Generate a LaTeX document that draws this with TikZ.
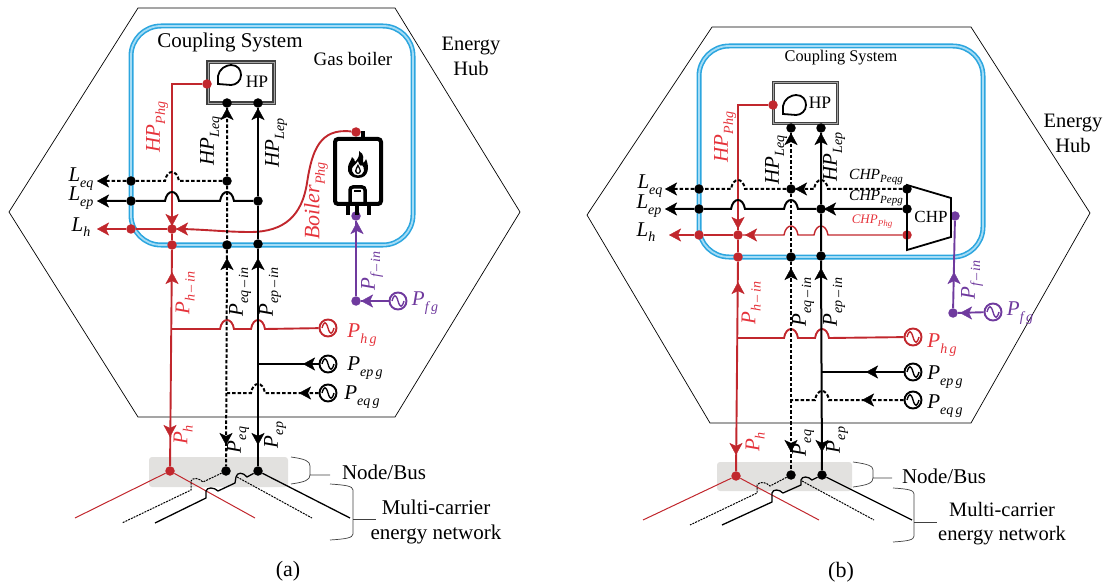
\documentclass[tikz,border=0pt]{standalone}
\usepackage{fontspec}
\setmainfont{Liberation Serif}
\usetikzlibrary{arrows.meta}
\definecolor{heatred}{HTML}{C1272D}
\definecolor{heattext}{HTML}{E5333B}
\definecolor{fuelpurple}{HTML}{6F3A9E}
\definecolor{hubblue}{HTML}{2CA6DF}
\definecolor{hubpale}{HTML}{A5DCF5}
\definecolor{busgrey}{HTML}{E2E1DF}
\newcommand{\pvar}[3][14]{\textit{#2}\raisebox{-.25em}{\fontsize{#1}{#1}\selectfont\itshape #3}}
\newcommand{\hoph}[2]{-- (#1+7,#2) .. controls (#1+5,#2-12) and (#1-5,#2-12) .. (#1-7,#2)}
\tikzset{
    hexagon/.style={draw, line width=.7pt},
    hubbox/.style={draw=hubblue, line width=1.6pt, double=hubpale, double distance=1.8pt, rounded corners=30pt},
    busbox/.style={fill=busgrey, rounded corners=3pt},
    hpbox/.style={draw=black!75, fill=white, line width=1.2pt, double=black!35, double distance=.9pt, minimum width=66pt, minimum height=41pt, inner sep=0pt},
    dotn/.style={circle, fill, inner sep=0pt, minimum size=9.5pt},
    reddot/.style={dotn, heatred},
    purpledot/.style={dotn, fuelpurple},
    source/.style={circle, draw=#1, fill=white, line width=1.9pt, minimum size=17pt, inner sep=0pt,
        path picture={\draw[#1, line width=1.4pt] ([xshift=-6pt]path picture bounding box.center) .. controls +(2pt,7pt) and +(-2pt,7pt) .. ++(6pt,0pt) .. controls +(2pt,-7pt) and +(-2pt,-7pt) .. ++(6pt,0pt);}},
    source/.default=black,
    solidl/.style={line width=2pt},
    dashl/.style={line width=2pt, dash pattern=on 3.5pt off 2pt},
    heatl/.style={line width=1.9pt, heatred},
    fuell/.style={line width=1.9pt, fuelpurple},
    thinl/.style={line width=1.3pt},
    thindash/.style={line width=1pt, dash pattern=on 2pt off 1pt},
    bracel/.style={line width=.7pt, black!75},
    lab/.style={font=\fontsize{21}{24}\selectfont, inner sep=0pt},
    small/.style={font=\fontsize{15.5}{18}\selectfont, inner sep=0pt},
    head/.style={font=\fontsize{21}{26}\selectfont, inner sep=0pt, align=center},
    tiphead/.style={-{Stealth[length=12pt, width=13pt, inset=3pt]}, line width=.3pt},
    pump/.pic={\draw[line width=1.8pt] (0,19) -- (0,11) .. controls (1,4) and (8,0) .. (13,0) .. controls (20,0) and (23,5) .. (23,10) .. controls (23,16) and (18,20) .. (13,20) -- cycle;}
}
\begin{document}
\begin{tikzpicture}[x=1pt, y=-1pt]
    \useasboundingbox (0,0) rectangle (1111,588);

    % (a)
    \draw[hexagon] (138,8) -- (395,8) -- (520,212) -- (395,417) -- (138,417) -- (9,212) -- cycle;
    \draw[hubbox] (131,26) rectangle (413,245);
    \fill[busbox] (149,457) rectangle (288,487);
    \node[hpbox] (hpa) at (241,82.5) {};
    \pic at (218,65) {pump};
    \node[inner sep=0pt, font=\fontsize{17.5}{20}\selectfont] (hptexta) at (257,82) {HP};

    \node[reddot] (hpouta) at (207,84) {};
    \node[dotn] (hpqa) at (227,103) {};
    \node[dotn] (hppa) at (258,103) {};
    \node[dotn] (lqjoina) at (227,181) {};
    \node[dotn] (lqboxa) at (131,181) {};
    \node[dotn] (lpjoina) at (258,201) {};
    \node[dotn] (lpboxa) at (131,201) {};
    \node[reddot] (lhboxa) at (131,229) {};
    \node[reddot] (lhjoina) at (172,229) {};
    \node[reddot] (inha) at (172,245) {};
    \node[dotn] (inqa) at (227,245) {};
    \node[dotn] (inpa) at (258,244) {};
    \node[reddot] (busha) at (170,471) {};
    \node[dotn] (busqa) at (226,471) {};
    \node[dotn] (buspa) at (258,471) {};
    \node[reddot] (boilerouta) at (356,132) {};
    \node[purpledot] (boilerina) at (356,216) {};
    \node[purpledot] (fuela) at (356,301) {};
    \coordinate (hcorna) at (172,84);
    \coordinate (hjoina) at (172,329);
    \coordinate (pjoina) at (258,364);
    \coordinate (qjoina) at (227,393);
    \coordinate (leqa) at (100,181);
    \coordinate (lepa) at (100,201);
    \coordinate (lha) at (100,229);
    \node[source=heatred] (srcha) at (328,328) {};
    \node[source] (srcpa) at (328,364) {};
    \node[source] (srcqa) at (328,393) {};
    \node[source=fuelpurple] (srcfa) at (398,301) {};

    \draw[heatl] (hpouta) -- (hcorna) -- (lhjoina);
    \draw[heatl] (lhjoina) -- (lhboxa) -- (lha);
    \draw[heatl] (lhjoina) -- (inha) -- (busha);
    \draw[heatl] (srcha) \hoph{258}{329} \hoph{227}{329} -- (hjoina);
    \draw[heatl] (boilerouta) .. controls (320,128) and (312,150) .. (307,183) .. controls (302,215) and (285,232) .. (250,232) .. controls (225,232) and (200,229) .. (lhjoina);
    \draw[dashl] (hpqa) -- (lqjoina) -- (inqa) -- (busqa);
    \draw[solidl] (hppa) -- (lpjoina) -- (inpa) -- (buspa);
    \draw[dashl] (lqjoina) \hoph{172}{181} -- (lqboxa) -- (leqa);
    \draw[solidl] (lpjoina) \hoph{227}{201} \hoph{172}{201} -- (lpboxa) -- (lepa);
    \draw[solidl] (srcpa) -- (pjoina);
    \draw[dashl] (srcqa) \hoph{258}{393} -- (qjoina);
    \draw[fuell] (boilerina) -- (fuela) -- (srcfa);

    \foreach \x/\y/\u/\v/\c in {172/226/0/1/heatred, 176/229/-1/0/heatred, 97/229/-1/0/heatred, 172/272/0/-1/heatred, 170/437/0/1/heatred,
        97/181/-1/0/black, 97/201/-1/0/black, 227/108/0/-1/black, 258/108/0/-1/black, 227/258/0/-1/black, 258/258/0/-1/black,
        226/445/0/1/black, 258/445/0/1/black, 303/364/-1/0/black, 299/393/-1/0/black,
        357/222/0/-1/fuelpurple, 361/301/-1/0/fuelpurple}
        \draw[tiphead, \c] (\x-\u,\y-\v) -- (\x,\y);

    \draw[line width=4pt, rounded corners=3pt] (335,139) rectangle (381,204);
    \draw[line width=4pt] (363,137) -- (363,131);
    \foreach \x in {348,357,369}
        \draw[line width=4pt] (\x,205) -- (\x,215);
    \draw[line width=3.5pt, rounded corners=3pt] (350,204) -- (350,187) -- (365,187) -- (365,204);
    \draw[line width=2pt] (354,191.5) -- (361,191.5);
    \fill[even odd rule] (358,178) .. controls (351,178) and (347,173) .. (348,167) .. controls (348.5,163) and (351,161) .. (352,157) .. controls (354,159) and (355,160) .. (355,162) .. controls (358,159) and (360,155) .. (359,151) .. controls (365,154) and (363,160) .. (363,163) .. controls (365,163) and (365,160) .. (366,159) .. controls (369,165) and (370,178) .. (358,178) -- cycle
        (358,161) .. controls (356,165) and (351,166) .. (352,171) .. controls (353,177) and (363,177) .. (364,171) .. controls (364.5,168) and (363,166) .. (362,165) .. controls (361,167) and (359,165) .. (358,161) -- cycle;
    \fill (358,164) .. controls (357,167) and (354.5,169) .. (355,171) .. controls (355.5,175) and (360.5,175) .. (361,171) .. controls (361,169) and (359,167) .. (358,164) -- cycle;
    \fill[white] (358,167) .. controls (357,169) and (356.5,170) .. (356.5,171) .. controls (356.5,173.5) and (359.5,173.5) .. (359.5,171) .. controls (359.5,170) and (359,169) .. (358,167) -- cycle;

    \draw[heatl, line width=1pt] (busha) -- (75,518);
    \draw[heatl, line width=1pt] (busha) -- (255,518);
    \coordinate (qenda) at (122,523);
    \coordinate (qstarta) at (237,477);
    \coordinate (qendra) at (312,518);
    \coordinate (penda) at (155,523);
    \coordinate (pendra) at (350,518);
    \draw[thindash] (busqa) -- (203,482) .. controls (199,478) and (193,477) .. (191,481) -- (191,490) -- (qenda);
    \draw[thindash] (qstarta) -- (qendra);
    \draw[thinl] (buspa) -- (247,477) .. controls (243,472) and (237,472) .. (236,477) -- (235,483) -- (218,491) .. controls (214,487) and (207,487) .. (206,491) -- (206,498) -- (penda);
    \draw[thinl] (buspa) -- (pendra);

    \draw[bracel] (291,457) .. controls (305,459) and (310,461) .. (310,466) -- (310,475) -- (330,475);
    \draw[bracel] (291,484) .. controls (305,482) and (310,480) .. (310,475);
    \draw[bracel] (330,484) .. controls (345,485) and (353,486) .. (353,490) -- (353,534) .. controls (353,538) and (345,539) .. (330,540);
    \draw[bracel] (353,519) -- (376,519);

    \node[head] (couplea) at (230,42) {Coupling System};
    \node[head, font=\fontsize{19}{23}\selectfont] (boilera) at (353,59) {Gas boiler};
    \node[head, font=\fontsize{20.5}{25}\selectfont] (huba) at (471,56) {Energy\\Hub};
    \node[head] (busa) at (384,472) {Node/Bus};
    \node[head, font=\fontsize{21}{25.5}\selectfont] (neta) at (436,522) {Multi-carrier\\energy network};
    \node[head, font=\fontsize{22}{26}\selectfont] (capa) at (288,571) {(a)};

    \node[lab, text=heattext, rotate=90] at (157,127) {\pvar{HP}{Phg}};
    \node[lab, rotate=90] at (211,141) {\pvar{HP}{Leq}};
    \node[lab, rotate=90] at (276,143) {\pvar{HP}{Lep}};
    \node[lab, text=heattext, rotate=90, font=\fontsize{22}{24}\selectfont] at (316,201) {\pvar{Boiler}{Phg}};
    \node[lab] at (81,179) {\pvar{L}{eq}};
    \node[lab] at (81,198) {\pvar{L}{ep}};
    \node[lab] at (81,227) {\pvar{L}{h}};
    \node[lab, text=heattext, rotate=90] at (185,293) {\pvar{P}{h\,--\,in}};
    \node[lab, rotate=90] at (240,292) {\pvar{P}{eq\,--\,in}};
    \node[lab, rotate=90] at (270,292) {\pvar{P}{ep\,--\,in}};
    \node[lab, text=fuelpurple, rotate=90] at (372,271) {\pvar{P}{f\,--\,in}};
    \node[lab, text=fuelpurple] at (425,303) {\pvar{P}{f\,g}};
    \node[lab, text=heattext] at (362,335) {\pvar{P}{h\,g}};
    \node[lab] at (365,368) {\pvar{P}{ep\,g}};
    \node[lab] at (362,397) {\pvar{P}{eq\,g}};
    \node[lab, text=heattext, rotate=90] at (183,435) {\pvar{P}{h}};
    \node[lab, rotate=90] at (238,440) {\pvar{P}{eq}};
    \node[lab, rotate=90] at (275,435) {\pvar{P}{ep}};

    % (b)
    \draw[hexagon] (712,27) -- (971,27) -- (1090,213) -- (971,423) -- (710,423) -- (587,215) -- cycle;
    \draw[hubbox] (699,46) rectangle (983,257);
    \fill[busbox] (717,462) rectangle (852,491);
    \node[hpbox, minimum width=64pt] (hpb) at (805.5,103) {};
    \pic at (783,95) {pump};
    \node[inner sep=0pt, font=\fontsize{17.5}{20}\selectfont] (hptextb) at (820,103) {HP};

    \node[reddot] (hpoutb) at (773,105) {};
    \node[dotn] (hpqb) at (791,128) {};
    \node[dotn] (hppb) at (821,128) {};
    \node[dotn] (lqjoinb) at (791,189) {};
    \node[dotn] (lqboxb) at (699,189) {};
    \node[dotn] (lpjoinb) at (821,209) {};
    \node[dotn] (lpboxb) at (699,209) {};
    \node[reddot] (lhboxb) at (699,235) {};
    \node[reddot] (lhjoinb) at (738,235) {};
    \node[reddot] (inhb) at (738,257) {};
    \node[dotn] (inqb) at (791,257) {};
    \node[dotn] (inpb) at (821,256) {};
    \node[reddot] (bushb) at (736,476) {};
    \node[dotn] (busqb) at (791,475) {};
    \node[dotn] (buspb) at (822,475) {};
    \node[dotn] (chpq) at (907,189) {};
    \node[dotn] (chpp) at (907,209) {};
    \node[reddot] (chph) at (907,235) {};
    \node[purpledot] (chpin) at (955,216) {};
    \node[purpledot] (fuelb) at (953,313) {};
    \coordinate (hcornb) at (738,105);
    \coordinate (hjoinb) at (737,338);
    \coordinate (pjoinb) at (822,372);
    \coordinate (qjoinb) at (791,400);
    \coordinate (leqb) at (668,189);
    \coordinate (lepb) at (668,209);
    \coordinate (lhb) at (672,235);
    \node[source=heatred] (srchb) at (913,337) {};
    \node[source] (srcpb) at (913,372) {};
    \node[source] (srcqb) at (913,400) {};
    \node[source=fuelpurple] (srcfb) at (993,312) {};

    \draw[line width=1.8pt] (907,185) -- (951,198) -- (951,237) -- (907,250) -- cycle;
    \node[inner sep=0pt, font=\fontsize{17}{20}\selectfont] (chpt) at (931,217) {CHP};

    \draw[heatl] (hpoutb) -- (hcornb) -- (lhjoinb);
    \draw[heatl, line width=1.4pt] (chph) \hoph{821}{235} \hoph{791}{235} -- (lhjoinb);
    \draw[heatl] (lhjoinb) -- (lhboxb) -- (lhb);
    \draw[heatl] (lhjoinb) -- (inhb) -- (bushb);
    \draw[heatl] (srchb) \hoph{822}{338} \hoph{791}{338} -- (hjoinb);
    \draw[dashl] (hpqb) -- (lqjoinb) -- (inqb) -- (busqb);
    \draw[solidl] (hppb) -- (lpjoinb) -- (inpb) -- (buspb);
    \draw[dashl] (chpq) \hoph{821}{189} -- (lqjoinb) \hoph{738}{189} -- (lqboxb) -- (leqb);
    \draw[solidl] (chpp) -- (lpjoinb) \hoph{791}{209} \hoph{738}{209} -- (lpboxb) -- (lepb);
    \draw[solidl] (srcpb) -- (pjoinb);
    \draw[dashl] (srcqb) \hoph{822}{400} -- (qjoinb);
    \draw[fuell] (chpin) -- (fuelb) -- (srcfb);

    \foreach \x/\y/\u/\v/\c in {738/229/0/1/heatred, 745/235/-1/0/heatred, 669/235/-1/0/heatred, 738/282/0/-1/heatred, 736/455/0/1/heatred,
        665/189/-1/0/black, 665/209/-1/0/black, 795/189/-1/0/black, 824/209/-1/0/black, 791/133/0/-1/black, 821/133/0/-1/black, 791/268/0/-1/black, 821/268/0/-1/black,
        791/452/0/1/black, 822/452/0/1/black, 866/372/-1/0/black, 862/400/-1/0/black,
        954/272/0/-1/fuelpurple, 960/313/-1/0/fuelpurple}
        \draw[tiphead, \c] (\x-\u,\y-\v) -- (\x,\y);

    \draw[heatl, line width=1pt] (bushb) -- (643,520);
    \draw[heatl, line width=1pt] (bushb) -- (819,520);
    \coordinate (qendb) at (690,525);
    \coordinate (qstartb) at (802,481);
    \coordinate (qendrb) at (874,520);
    \coordinate (pendb) at (722,525);
    \coordinate (pendrb) at (912,520);
    \draw[thindash] (busqb) -- (770,486) .. controls (766,482) and (760,481) .. (757,485) -- (757,493) -- (qendb);
    \draw[thindash] (qstartb) -- (qendrb);
    \draw[thinl] (buspb) -- (812,480) .. controls (808,476) and (802,476) .. (801,480) -- (801,485) -- (783,493) .. controls (779,489) and (773,489) .. (772,493) -- (772,502) -- (pendb);
    \draw[thinl] (buspb) -- (pendrb);

    \draw[bracel] (853,462) .. controls (868,464) and (873,466) .. (873,470) -- (873,478) -- (892,478);
    \draw[bracel] (853,487) .. controls (868,485) and (873,483) .. (873,478);
    \draw[bracel] (893,488) .. controls (908,489) and (914,490) .. (914,494) -- (914,536) .. controls (914,540) and (908,541) .. (893,542);
    \draw[bracel] (914,522) -- (937,522);

    \node[head, font=\fontsize{16.3}{20}\selectfont] (coupleb) at (841,58) {Coupling System};
    \node[head, font=\fontsize{20.5}{25}\selectfont] (hubb) at (1073,133) {Energy\\Hub};
    \node[head] (busb) at (944,476) {Node/Bus};
    \node[head, font=\fontsize{20.5}{24}\selectfont] (netb) at (1002,524) {Multi-carrier\\energy network};
    \node[head, font=\fontsize{22}{26}\selectfont] (capb) at (841,572) {(b)};

    \node[lab, text=heattext, rotate=90] at (725,137) {\pvar{HP}{Phg}};
    \node[lab, rotate=90] at (776,160) {\pvar{HP}{Leq}};
    \node[lab, rotate=90] at (834,157) {\pvar{HP}{Lep}};
    \node[small] at (876,177) {\pvar[11]{CHP}{Peqg}};
    \node[small] at (876,198) {\pvar[11]{CHP}{Pepg}};
    \node[inner sep=0pt, text=heattext, font=\fontsize{13}{15}\selectfont] at (872,222) {\pvar[9]{CHP}{Phg}};
    \node[lab] at (650,186) {\pvar{L}{eq}};
    \node[lab] at (649,206) {\pvar{L}{ep}};
    \node[lab] at (646,232) {\pvar{L}{h}};
    \node[lab, text=heattext, rotate=90] at (751,303) {\pvar{P}{h\,--\,in}};
    \node[lab, rotate=90] at (803,302) {\pvar{P}{eq\,--\,in}};
    \node[lab, rotate=90] at (834,302) {\pvar{P}{ep\,--\,in}};
    \node[lab, text=fuelpurple, rotate=90] at (972,280) {\pvar{P}{f\,--\,in}};
    \node[lab, text=fuelpurple] at (1020,313) {\pvar{P}{f\,g}};
    \node[lab, text=heattext] at (942,345) {\pvar{P}{h\,g}};
    \node[lab] at (945,377) {\pvar{P}{ep\,g}};
    \node[lab] at (945,406) {\pvar{P}{eq\,g}};
    \node[lab, text=heattext, rotate=90] at (755,442) {\pvar{P}{h}};
    \node[lab, rotate=90] at (803,443) {\pvar{P}{eq}};
    \node[lab, rotate=90] at (837,440) {\pvar{P}{ep}};
\end{tikzpicture}
\end{document}
